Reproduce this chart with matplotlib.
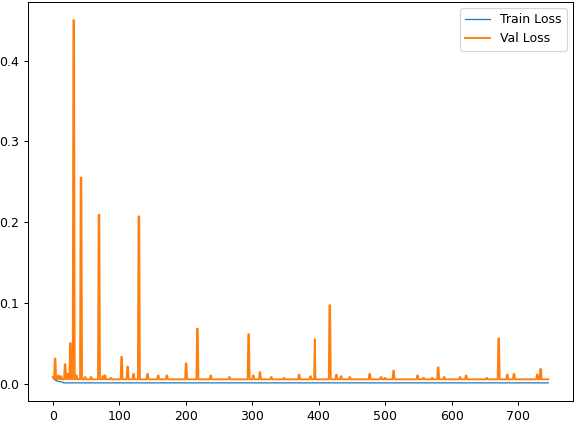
import numpy as np
import matplotlib
matplotlib.use('Agg')
import matplotlib.pyplot as plt

n_epochs = 746

train_start = [0.008, 0.0065, 0.0055, 0.0048, 0.0042, 0.0037, 0.0033, 0.003,
               0.0028, 0.0026, 0.0024, 0.0022, 0.0021, 0.002, 0.0019, 0.0018]
train_level = 0.0009

# val loss: baseline level plus spikes (epoch, value)
val_start = [0.008, 0.007, 0.006]
val_level = 0.0053
val_spikes = [(3, 0.031), (8, 0.010), (12, 0.009), (18, 0.024), (22, 0.012),
              (26, 0.050), (31, 0.450), (35, 0.010), (42, 0.255), (48, 0.008),
              (57, 0.008), (69, 0.209), (75, 0.009), (78, 0.010), (87, 0.007),
              (103, 0.033), (112, 0.021), (121, 0.012), (129, 0.207),
              (142, 0.012), (158, 0.010), (171, 0.010), (200, 0.025),
              (217, 0.068), (237, 0.010), (265, 0.008), (294, 0.061),
              (301, 0.010), (311, 0.014), (328, 0.008), (347, 0.007),
              (370, 0.011), (387, 0.009), (416, 0.097), (426, 0.011),
              (433, 0.009), (446, 0.008), (476, 0.012), (493, 0.008),
              (499, 0.007), (512, 0.016), (548, 0.010), (557, 0.007),
              (570, 0.007), (579, 0.020), (588, 0.008), (612, 0.008),
              (621, 0.010), (652, 0.007), (670, 0.056), (683, 0.011),
              (693, 0.012), (728, 0.011), (733, 0.018)]
thin_spikes = [(394, 0.055)]

train_loss = np.full(n_epochs, train_level)
train_loss[:len(train_start)] = train_start

val_loss = np.full(n_epochs, val_level)
val_loss[:len(val_start)] = val_start
for e, v in val_spikes:
    val_loss[e] = v
    val_loss[e + 1] = v
for e, v in thin_spikes:
    val_loss[e] = v

fig = plt.figure(figsize=(6.4, 422 / 90), dpi=90)
ax = fig.add_axes([28 / 576, 21 / 422, 545 / 576, 399 / 422])
ax.plot(train_loss, label='Train Loss', lw=1)
ax.plot(val_loss, label='Val Loss')
ax.legend()
fig.savefig('out.png', dpi=90)
